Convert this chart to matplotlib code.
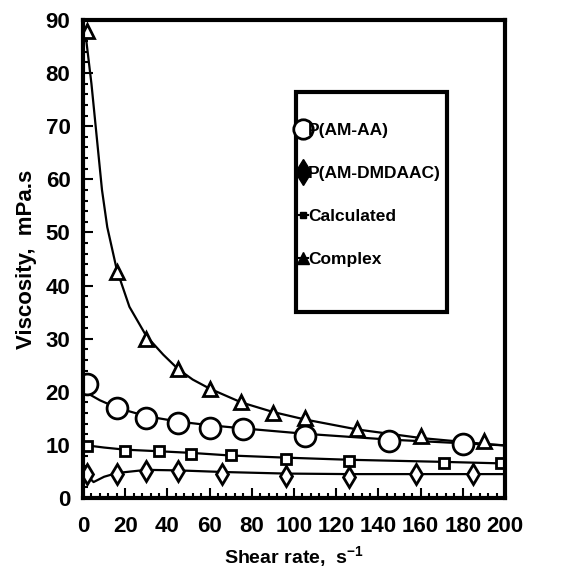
import matplotlib
matplotlib.use("Agg")
from matplotlib import pyplot as plt
from matplotlib.ticker import MultipleLocator
from matplotlib.lines import Line2D
from matplotlib.patches import Rectangle

# Markers
cx_complex = [2, 16, 30, 45, 60, 75, 90, 105, 130, 160, 190]
cy_complex = [88, 42.5, 30, 24.3, 20.5, 18, 16, 15, 13, 11.7, 10.8]

cx_amaa = [2, 16, 30, 45, 60, 76, 105, 145, 180]
cy_amaa = [21.5, 17, 15, 14.2, 13.2, 13, 11.7, 10.8, 10.2]

cx_calc = [2, 20, 36, 51, 70, 96, 126, 171, 198]
cy_calc = [9.8, 8.9, 8.9, 8.3, 8.1, 7.4, 7.0, 6.6, 6.6]

cx_dmdaac = [2, 16, 30, 45, 66, 96, 126, 158, 185]
cy_dmdaac = [4.5, 4.6, 5.1, 5.0, 4.6, 4.2, 4.0, 4.5, 4.5]

# Fitted curves
lx_complex = [1, 4, 7, 9, 11.5, 16, 22, 30, 38, 45, 52, 60, 75, 90, 105, 130, 160, 190, 200]
ly_complex = [88, 78, 66, 58, 51, 43, 36, 30.5, 27, 24.3, 22.3, 20.6, 18, 16.2, 14.8, 12.9, 11.3, 10.2, 9.9]

lx_amaa = [0, 8, 16, 30, 45, 60, 76, 105, 145, 180, 200]
ly_amaa = [20.2, 18.4, 17, 15.4, 14.4, 13.7, 13.1, 12.1, 11.0, 10.3, 9.9]

lx_calc = [0, 10, 20, 36, 51, 70, 96, 126, 171, 200]
ly_calc = [10.0, 9.5, 9.1, 8.8, 8.5, 8.0, 7.6, 7.2, 6.8, 6.5]

lx_dmdaac = [2, 5, 10, 16, 30, 45, 66, 96, 126, 158, 200]
ly_dmdaac = [4.2, 3.0, 4.0, 4.7, 5.3, 5.2, 4.9, 4.6, 4.5, 4.5, 4.5]

labels = ["P(AM-AA)", "P(AM-DMDAAC)", "Calculated", "Complex"]

FONT = ["Liberation Sans", "DejaVu Sans"]


def main():
    plt.rcParams["font.family"] = FONT
    plt.rcParams["font.weight"] = "bold"

    fig = plt.figure(figsize=(5.66, 5.75), dpi=100)
    ax = fig.add_axes([83 / 566, 1 - 498 / 575, (505 - 83) / 566, (498 - 20) / 575])

    lw = 1.6
    ax.plot(lx_complex, ly_complex, color="black", lw=lw)
    ax.plot(lx_amaa, ly_amaa, color="black", lw=lw)
    ax.plot(lx_calc, ly_calc, color="black", lw=lw)
    ax.plot(lx_dmdaac, ly_dmdaac, color="black", lw=lw)

    ax.plot(cx_amaa, cy_amaa, "o", ms=15, mfc="white", mec="black", mew=2, ls="none")
    ax.plot(cx_complex, cy_complex, "^", ms=10, mfc="white", mec="black", mew=2, ls="none")
    ax.plot(cx_calc, cy_calc, "s", ms=6.5, mfc="white", mec="black", mew=2, ls="none")
    ax.plot(cx_dmdaac, cy_dmdaac, "d", ms=10, mfc="white", mec="black", mew=2, ls="none")

    ax.set_xlim(0, 200)
    ax.set_ylim(0, 90)
    ax.xaxis.set_major_locator(MultipleLocator(20))
    ax.xaxis.set_minor_locator(MultipleLocator(4))
    ax.yaxis.set_major_locator(MultipleLocator(10))
    ax.yaxis.set_minor_locator(MultipleLocator(2))
    ax.tick_params(which="both", direction="in", top=False, right=False, width=1.5)
    ax.tick_params(which="major", length=7, labelsize=16)
    ax.tick_params(axis="x", which="major", pad=13)
    ax.tick_params(axis="y", which="major", pad=9)
    ax.tick_params(which="minor", length=3.5)
    for s in ax.spines.values():
        s.set_linewidth(3)
    for t in ax.get_xticklabels() + ax.get_yticklabels():
        t.set_fontweight("bold")

    ax.set_xlabel("Shear rate,  s$^{\\mathregular{-1}}$", fontsize=14, fontweight="bold", labelpad=5)
    ax.set_ylabel("Viscosity,  mPa.s", fontsize=16, fontweight="bold", labelpad=6)

    # legend box drawn by hand so it keeps the reference's size
    ax.add_patch(Rectangle((0.505, 0.389), 0.358, 0.46, transform=ax.transAxes,
                           fill=False, edgecolor="black", lw=3, zorder=5, clip_on=False))
    handles = [
        Line2D([], [], marker="o", ms=14, mfc="white", mec="black", mew=2, ls="-", color="black"),
        Line2D([], [], marker="d", ms=13, mfc="black", mec="black", mew=1, ls="-", color="black"),
        Line2D([], [], marker="s", ms=5, mfc="black", mec="black", mew=1, ls="-", color="black"),
        Line2D([], [], marker="^", ms=9, mfc="black", mec="black", mew=1, ls="-", color="black"),
    ]
    ax.legend(handles, labels, loc="upper left", bbox_to_anchor=(0.508, 0.785),
              frameon=False, handlelength=0.6, handletextpad=0.0,
              borderpad=0.0, labelspacing=1.6, borderaxespad=0,
              prop={"family": FONT, "weight": "bold", "size": 12.5})

    fig.savefig("out.png", dpi=100)


if __name__ == "__main__":
    main()
